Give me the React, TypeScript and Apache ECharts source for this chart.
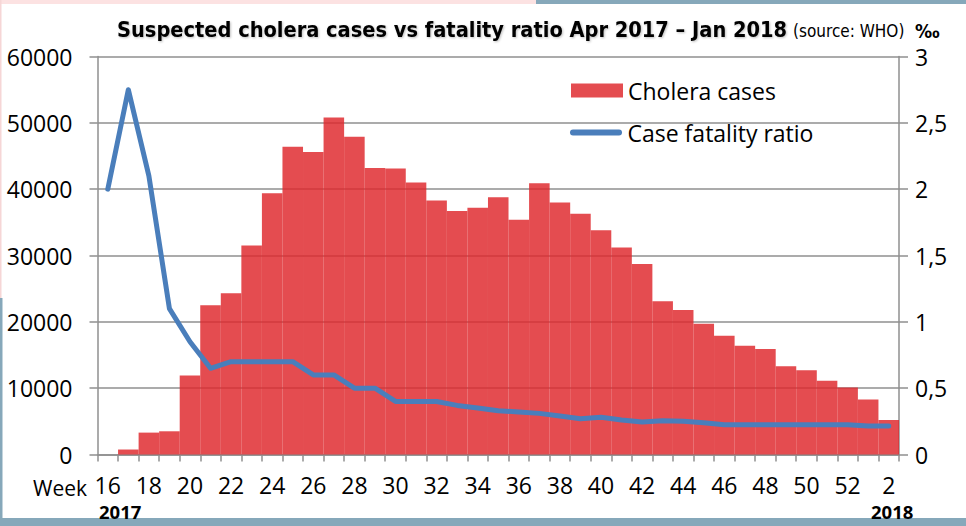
import React, { useEffect, useRef } from "react";
import * as echarts from "echarts";

// Week labels (2017 week 16 → 2018 week 2)
const weeks = [
  "16", "17", "18", "19", "20", "21", "22", "23", "24", "25", "26", "27", "28", "29",
  "30", "31", "32", "33", "34", "35", "36", "37", "38", "39", "40", "41", "42", "43",
  "44", "45", "46", "47", "48", "49", "50", "51", "52", "1", "2",
];

// Suspected cholera cases per week
const cases = [
  0, 750, 3300, 3500, 11900, 22500, 24300, 31500, 39400, 46400, 45600, 50800, 47900, 43200,
  43100, 41000, 38300, 36700, 37200, 38800, 35400, 40900, 38000, 36300, 33800, 31200, 28700, 23100,
  21800, 19700, 17900, 16400, 15900, 13300, 12700, 11100, 10100, 8300, 5200,
];

// Case fatality ratio (‰)
const fatality = [
  2.0, 2.75, 2.1, 1.1, 0.85, 0.65, 0.7, 0.7, 0.7, 0.7, 0.6, 0.6, 0.5, 0.5,
  0.4, 0.4, 0.4, 0.37, 0.35, 0.33, 0.32, 0.31, 0.29, 0.27, 0.28, 0.26, 0.245, 0.255,
  0.25, 0.24, 0.225, 0.225, 0.225, 0.225, 0.225, 0.225, 0.225, 0.215, 0.215,
];

const titleMain = "Suspected cholera cases vs fatality ratio Apr 2017 – Jan 2018";
const titleSource = "(source: WHO)";
const seriesNames = ["Cholera cases", "Case fatality ratio"];

export default function App() {
  const ref = useRef<HTMLDivElement>(null);

  useEffect(() => {
    document.body.style.margin = "0";
    const chart = echarts.init(ref.current as HTMLDivElement, null, { renderer: "svg" });
    const font = "Open Sans";
    const titleFont = "DejaVu Sans Condensed";
    const gray = "#8f8f8f";
    const frame = "#86a8ba";

    const option = {
      animation: false,
      backgroundColor: "#ffffff",
      textStyle: { fontFamily: font },
      grid: { left: 97.5, right: 67, top: 56.5, bottom: 71.5, containLabel: false },
      legend: [
        {
          data: [{ name: seriesNames[0], icon: "rect" }],
          left: 571,
          top: 79,
          padding: 0,
          itemWidth: 52,
          itemHeight: 14,
          selectedMode: false,
          textStyle: { fontSize: 23, fontFamily: font, color: "#000" },
        },
        {
          data: [
            {
              name: seriesNames[1],
              icon: "path://M3,0L49,0A3,3,0,0,1,49,6L3,6A3,3,0,0,1,3,0Z",
            },
          ],
          left: 570,
          top: 121,
          padding: 0,
          itemWidth: 53,
          itemHeight: 6,
          selectedMode: false,
          textStyle: { fontSize: 23, fontFamily: font, color: "#000" },
        },
      ],
      xAxis: {
        type: "category",
        data: weeks,
        boundaryGap: true,
        axisLine: { lineStyle: { color: gray, width: 1.5 } },
        axisTick: { show: true, interval: 0, length: 7, lineStyle: { color: gray, width: 1.5 } },
        axisLabel: { interval: 1, margin: 19, fontSize: 23, color: "#000", fontFamily: font },
        splitLine: { show: false },
      },
      yAxis: [
        {
          type: "value",
          position: "left",
          min: 0,
          max: 60000,
          interval: 10000,
          axisLine: { show: true, lineStyle: { color: gray, width: 1.5 } },
          axisTick: { show: true, length: 8, lineStyle: { color: gray, width: 1.5 } },
          axisLabel: {
            margin: 25,
            fontSize: 23,
            color: "#000",
            fontFamily: font,
            formatter: (v: number) => String(v),
          },
          splitLine: { show: true, lineStyle: { color: gray, width: 1.5 } },
        },
        {
          type: "value",
          position: "right",
          min: 0,
          max: 3,
          interval: 0.5,
          axisLine: { show: true, lineStyle: { color: gray, width: 1.5 } },
          axisTick: { show: true, length: 9, lineStyle: { color: gray, width: 1.5 } },
          axisLabel: {
            margin: 16,
            fontSize: 23,
            color: "#000",
            fontFamily: font,
            formatter: (v: number) => String(v).replace(".", ","),
          },
          splitLine: { show: false },
        },
      ],
      series: [
        {
          name: seriesNames[0],
          type: "bar",
          yAxisIndex: 0,
          data: cases,
          barCategoryGap: "0%",
          itemStyle: { color: "rgba(222,40,44,0.83)" },
          z: 2,
        },
        {
          name: seriesNames[1],
          type: "line",
          yAxisIndex: 1,
          data: fatality,
          symbol: "none",
          showSymbol: false,
          lineStyle: { color: "#4a7ebb", width: 5, join: "round", cap: "round" },
          itemStyle: { color: "#4a7ebb" },
          z: 3,
        },
      ],
      graphic: [
        { type: "rect", left: 0, top: 0, shape: { width: 536, height: 4 }, style: { fill: "#fce2e2" }, silent: true },
        { type: "rect", left: 536, top: 0, shape: { width: 430, height: 4 }, style: { fill: frame }, silent: true },
        { type: "rect", left: 0, top: 0, shape: { width: 1.5, height: 298 }, style: { fill: "#f6d6d6" }, silent: true },
        { type: "rect", left: 0, top: 298, shape: { width: 2.5, height: 228 }, style: { fill: frame }, silent: true },
        { type: "rect", left: 0, top: 518, shape: { width: 966, height: 8 }, style: { fill: frame }, silent: true },
        {
          type: "text",
          x: 117,
          y: 29,
          style: {
            text: titleMain,
            fontFamily: titleFont,
            fontWeight: "bold",
            fontSize: 21.6,
            fill: "#000",
            verticalAlign: "middle",
            textShadowColor: "rgba(0,0,0,0.25)",
            textShadowBlur: 2,
            textShadowOffsetX: 1,
            textShadowOffsetY: 1,
          },
        },
        {
          type: "text",
          x: 793,
          y: 31,
          style: {
            text: titleSource,
            fontFamily: titleFont,
            fontSize: 17,
            fill: "#000",
            verticalAlign: "middle",
          },
        },
        {
          type: "text",
          x: 915,
          y: 31,
          style: {
            text: "‰",
            fontFamily: titleFont,
            fontWeight: "bold",
            fontSize: 19,
            fill: "#000",
            verticalAlign: "middle",
          },
        },
        {
          type: "text",
          x: 33,
          y: 488,
          style: { text: "Week", fontFamily: font, fontSize: 21, fill: "#000", verticalAlign: "middle" },
        },
        {
          type: "text",
          x: 99,
          y: 511,
          style: { text: "2017", fontFamily: font, fontWeight: "bold", fontSize: 18.5, fill: "#000", verticalAlign: "middle" },
        },
        {
          type: "text",
          x: 871,
          y: 511,
          style: { text: "2018", fontFamily: font, fontWeight: "bold", fontSize: 18.5, fill: "#000", verticalAlign: "middle" },
        },
      ],
    };

    chart.setOption(option);
    return () => chart.dispose();
  }, []);

  return (
    <div
      ref={ref}
      style={{ position: "absolute", left: 0, top: 0, width: 966, height: 526, background: "#fff" }}
    />
  );
}
